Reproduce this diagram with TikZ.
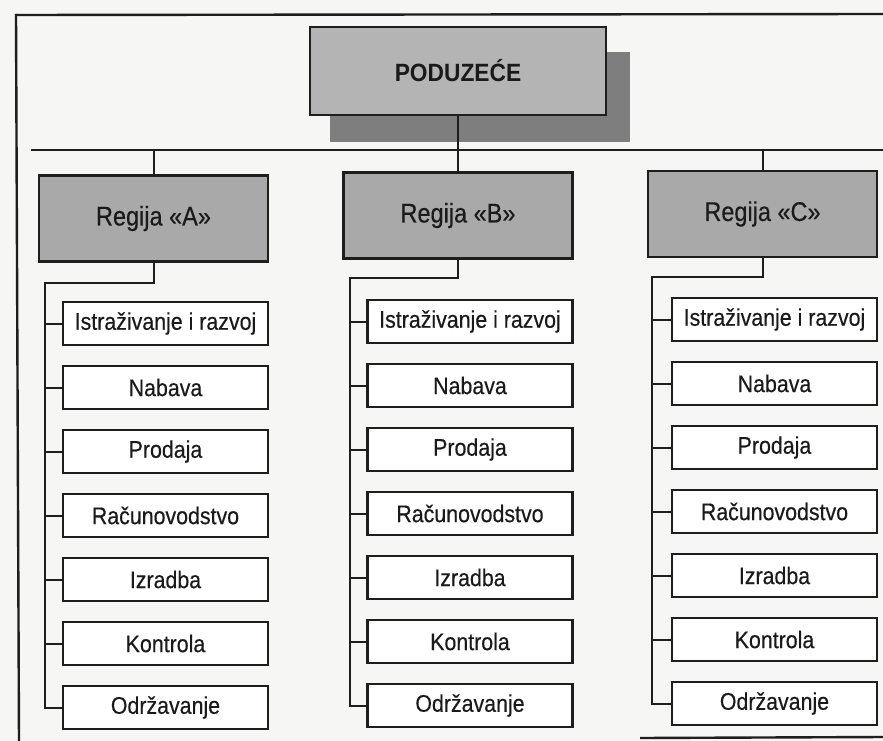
\documentclass[tikz,border=0pt]{standalone}
\usepackage{fontspec}
\setmainfont{Liberation Sans}
% narrowed, slightly heavier faces for the box labels
\newfontfamily\headfont[FakeStretch=0.91]{Liberation Sans}
\newfontfamily\regfont[FakeStretch=0.87,FakeBold=0.35]{Liberation Sans}
\newfontfamily\unitfont[FakeStretch=0.89,FakeBold=0.35]{Liberation Sans}
\definecolor{paper}{HTML}{F6F6F4}
\definecolor{inkc}{HTML}{1E1E1E}
\definecolor{textc}{HTML}{1A1A1A}
\definecolor{topfill}{HTML}{B4B4B4}
\definecolor{shadowfill}{HTML}{7E7E7E}
\definecolor{regfill}{HTML}{A9A9A9}
\begin{document}
\begin{tikzpicture}[x=1pt,y=-1pt,
  frame/.style={draw=inkc, line width=2.4pt},
  conn/.style={draw=inkc, line width=2pt, line join=miter},
  topbox/.style={draw=inkc, line width=2.6pt, fill=topfill, text=textc,
    minimum width=296pt, minimum height=88pt, inner sep=0pt,
    font=\headfont\fontsize{25}{29}\selectfont\bfseries},
  regbox/.style={draw=inkc, line width=2.4pt, fill=regfill, text=textc,
    minimum width=229pt, minimum height=86pt, inner sep=0pt,
    font=\regfont\fontsize{27}{31}\selectfont},
  unitbox/.style={draw=inkc, line width=2.2pt, fill=white, text=textc,
    minimum width=205pt, minimum height=43pt, inner sep=0pt,
    font=\unitfont\fontsize{24}{28}\selectfont}]
\useasboundingbox (0,0) rectangle (883,741);
\fill[paper] (0,0) rectangle (883,741);

% page frame
\draw[frame] (15,15) -- (883,14);
\draw[frame] (16,14) -- (19,741);
\draw[frame] (640,738) -- (883,737);

% head office with its drop shadow
\fill[shadowfill] (330,52) rectangle (630,142);
\node[topbox] (pod) at (458,71) {PODUZEĆE};

% bus line under the head office
\coordinate (busL) at (31,150);
\coordinate (busR) at (883,150);
\draw[conn] (busL) -- (busR);

% regions with their departments
\foreach \c/\xr/\yr/\xu/\yu/\xs/\yj/\L in
  {a/153.5/218.5/165.5/323.5/45/283/A,
   b/458/215.5/470/321.5/350/278/B,
   c/762.5/214/774.5/319.5/652/277/C}{
  \node[regbox] (r\c) at (\xr,\yr) {Regija «\L»};
  \foreach \t [count=\i] in {Istraživanje i razvoj, Nabava, Prodaja,
      Računovodstvo, Izradba, Kontrola, Održavanje}{
    \node[unitbox] (\c\i) at (\xu,{\yu+64*(\i-1)}) {\t};
  }
  \coordinate (j\c) at (\xs,\yj);
  \draw[conn] (r\c.south) |- (j\c) |- (\c7.west);
  \foreach \i in {1,...,6}{
    \draw[conn] (\c\i.west) -- (\c\i.west -| j\c);
  }
}

% drops from the bus to the regions
\draw[conn] (pod.south) -- (rb.north);
\draw[conn] (ra.north) -- (ra.north |- busL);
\draw[conn] (rc.north) -- (rc.north |- busL);
\end{tikzpicture}
\end{document}
